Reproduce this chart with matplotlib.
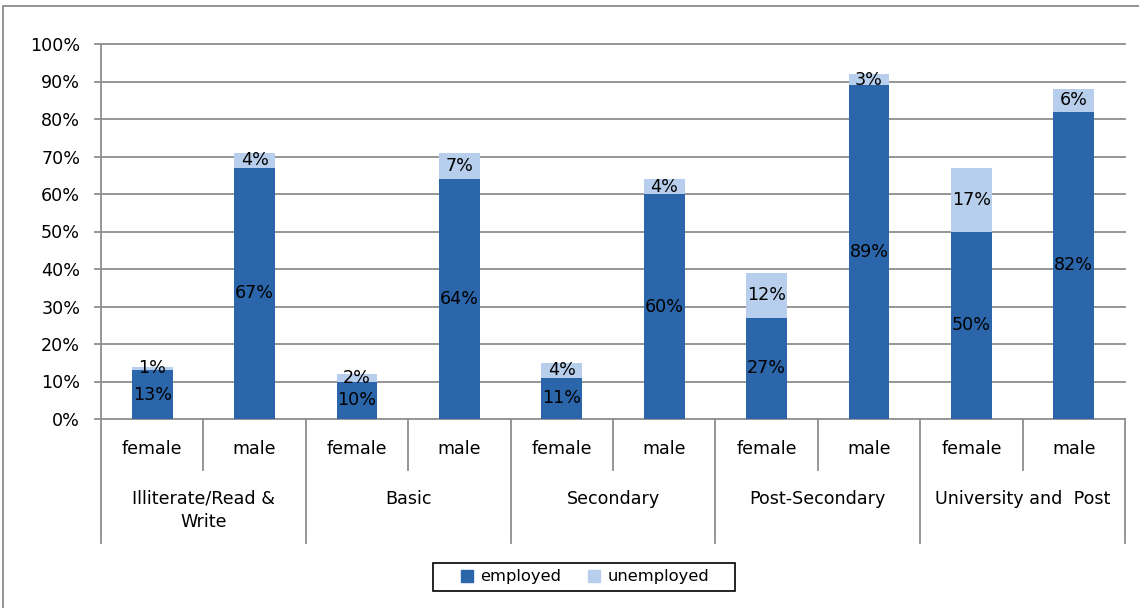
import numpy as np
import matplotlib
matplotlib.use("Agg")
import matplotlib.pyplot as plt
from matplotlib.lines import Line2D
from matplotlib.patches import Rectangle

# education levels and gender split
levels = ["Illiterate/Read &\nWrite", "Basic", "Secondary", "Post-Secondary", "University and  Post"]
genders = ["female", "male"]

# shares (%) per level: female, male
employed = [13, 67, 10, 64, 11, 60, 27, 89, 50, 82]
unemployed = [1, 4, 2, 7, 4, 4, 12, 3, 17, 6]

yticks = [0, 10, 20, 30, 40, 50, 60, 70, 80, 90, 100]

c_emp = "#2b65aa"
c_unemp = "#b7ceec"
grid_c = "#8e8e8e"

W, H = 1139, 608
fig = plt.figure(figsize=(W / 100, H / 100), dpi=100)
fig.patch.set_facecolor("white")

# outer chart border
fig.add_artist(Rectangle((3 / W, -0.05), 1.2, 1 - 6 / H + 0.05, transform=fig.transFigure,
                         fill=False, edgecolor="#8a8a8a", linewidth=1.3))

ax = fig.add_axes([101 / W, 1 - 419 / H, (1125 - 101) / W, (419 - 44) / H])

x = np.arange(len(employed))
emp = np.array(employed)
unemp = np.array(unemployed)
ax.bar(x, emp, width=0.4, color=c_emp, zorder=3)
ax.bar(x, unemp, width=0.4, bottom=emp, color=c_unemp, zorder=3)

fs = 12.6
for xi, e, u in zip(x, emp, unemp):
    ax.text(xi, e / 2, f"{e}%", ha="center", va="center", fontsize=fs, zorder=4)
    ax.text(xi, e + u / 2, f"{u}%", ha="center", va="center", fontsize=fs, zorder=4)

ax.set_xlim(-0.5, len(employed) - 0.5)
ax.set_ylim(0, 100)
ax.set_yticks(yticks)
ax.set_yticklabels([f"{t}%" for t in yticks], fontsize=fs)
for t in yticks:
    ax.plot([-0.56, len(employed) - 0.5], [t, t], color=grid_c, lw=1.3, zorder=1, clip_on=False)
ax.tick_params(axis="y", length=0, pad=15)
ax.set_xticks([])
for s in ["top", "right", "bottom"]:
    ax.spines[s].set_visible(False)
ax.spines["left"].set_color(grid_c)
ax.spines["left"].set_linewidth(1.3)

# multi-level category axis
tr = ax.get_xaxis_transform()
for i in range(len(employed) + 1):
    xb = i - 0.5
    y_end = -0.331 if i % 2 == 0 else -0.136
    ax.plot([xb, xb], [0, y_end], color=grid_c, lw=1.3, transform=tr, clip_on=False)
for i, xi in enumerate(x):
    ax.text(xi, -0.08, genders[i % 2], transform=tr, ha="center", va="center", fontsize=fs)
for j, lev in enumerate(levels):
    ax.text(2 * j + 0.5, -0.189, lev, transform=tr, ha="center", va="top",
            fontsize=fs, linespacing=1.35)

# legend
fig.add_artist(Rectangle((433 / W, 1 - 591 / H), (735 - 433) / W, 28 / H, transform=fig.transFigure,
                         fill=False, edgecolor="black", linewidth=1.2))
handles = [Line2D([], [], marker="s", ls="", color=c_emp, markersize=8),
           Line2D([], [], marker="s", ls="", color=c_unemp, markersize=8)]
fig.legend(handles, ["employed", "unemployed"], loc="center", ncol=2,
           bbox_to_anchor=(584 / W, 1 - 577 / H), frameon=False, fontsize=11.8,
           handletextpad=0.3, columnspacing=1.5, handlelength=1.0)

fig.savefig("out.png", dpi=100)
